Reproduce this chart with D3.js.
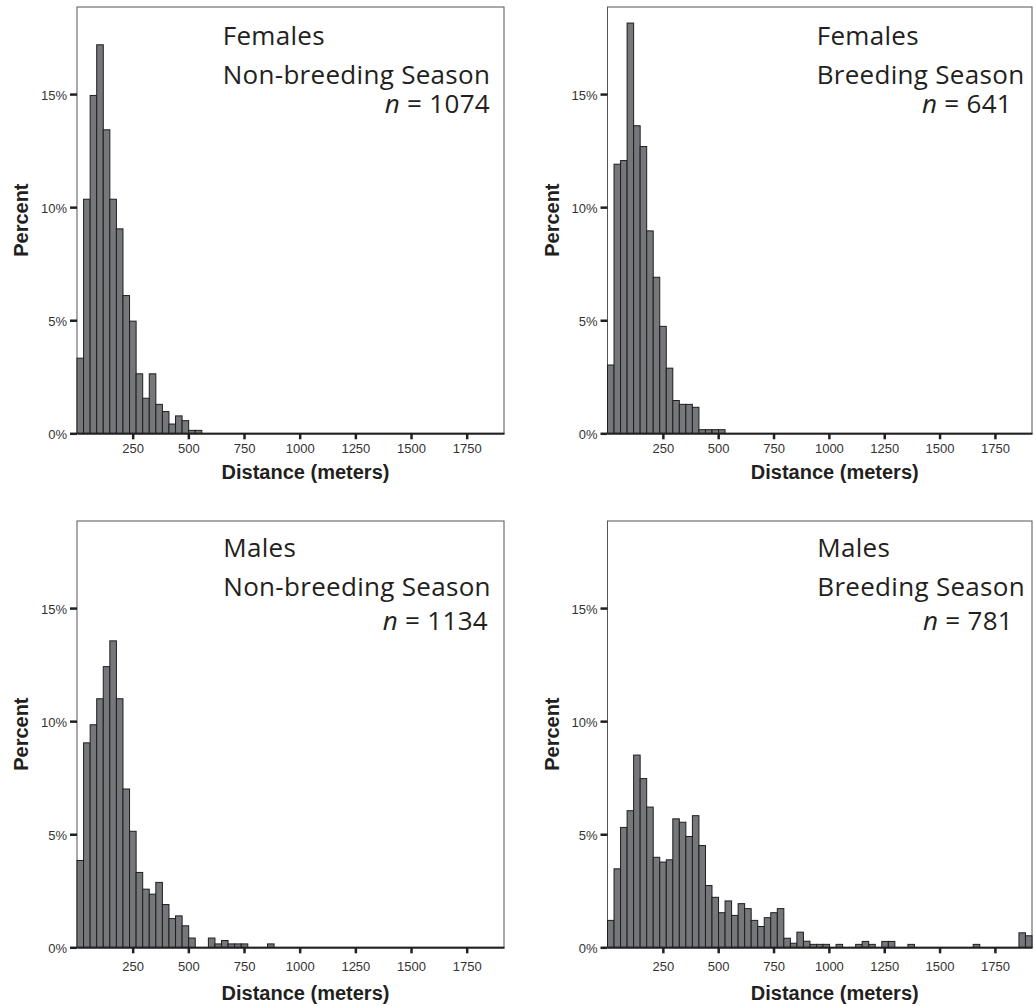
<!DOCTYPE html>
<html>
<head>
<meta charset="utf-8">
<script src="https://cdn.jsdelivr.net/npm/d3@7"></script>
<style>
  body { margin: 0; background: #fff; }
  svg { display: block; }
  .tick-label { font-family: "Liberation Sans", Arial, sans-serif; font-size: 13px; fill: #333; }
  .axis-title { font-family: "Liberation Sans", Arial, sans-serif; font-size: 20px; font-weight: bold; fill: #231f20; }
  .note { font-family: "Open Sans", "Noto Sans", sans-serif; font-size: 26px; letter-spacing: 0.3px; fill: #231f20; }
</style>
</head>
<body>
<svg width="1034" height="1006"></svg>
<script>
// histogram bins: 65 bins of 29.5 m starting at 0
var binWidth = 29.5;
var xMax = 1917.5;
var yMax = 18.85;
var xTicks = [250, 500, 750, 1000, 1250, 1500, 1750];
var yTicks = [0, 5, 10, 15];

// percent of relocations per bin
var femalesNonBreeding = [3.32, 10.35, 14.94, 17.18, 13.42, 10.35, 9.04, 6.09, 4.96, 2.63,
  1.55, 2.63, 1.28, 0.96, 0.41, 0.77, 0.56, 0.13, 0.13];
var femalesBreeding = [3.02, 11.9, 12.06, 18.14, 13.6, 12.68, 8.95, 6.9, 4.73, 2.88,
  1.45, 1.28, 1.28, 1.15, 0.16, 0.16, 0.16, 0.16];
var malesNonBreeding = [3.84, 9.04, 9.84, 10.99, 12.41, 13.55, 10.99, 7.0, 5.13, 3.31,
  2.57, 2.35, 2.87, 1.89, 1.27, 1.39, 0.95, 0.41, 0, 0,
  0.41, 0.15, 0.3, 0.15, 0.15, 0.15, 0, 0, 0, 0.15];
var malesBreeding = [1.19, 3.47, 5.30, 6.04, 8.5, 7.46, 6.2, 3.98, 3.77, 3.87,
  5.68, 5.53, 4.9, 5.82, 4.5, 2.73, 2.21, 1.53, 2.05, 1.41,
  1.93, 1.71, 1.19, 0.92, 1.31, 1.53, 1.71, 0.40, 0.18, 0.67,
  0.27, 0.13, 0.13, 0.13, 0, 0.13, 0, 0, 0.13, 0.26,
  0.13, 0, 0.26, 0.26, 0, 0, 0.13, 0, 0, 0,
  0, 0, 0, 0, 0, 0, 0.13, 0, 0, 0,
  0, 0, 0, 0.64, 0.51];

var sexes = ["Females", "Females", "Males", "Males"];
var seasons = ["Non-breeding Season", "Breeding Season", "Non-breeding Season", "Breeding Season"];
var counts = [1074, 641, 1134, 781];
var series = [femalesNonBreeding, femalesBreeding, malesNonBreeding, malesBreeding];

// layout of the four panels
var panels = [
  {left: 77, right: 504, top: 7, bottom: 433.3, tickDy: 20, titleDy: 46, noteX: 222.7, nRight: 490, lines: [38, 77, 106]},
  {left: 607.5, right: 1032, top: 7, bottom: 433.3, tickDy: 20, titleDy: 46, noteX: 816.7, nRight: 1012, lines: [38, 77, 106]},
  {left: 77, right: 504, top: 521, bottom: 947.3, tickDy: 24, titleDy: 52.5, noteX: 223.3, nRight: 488, lines: [36, 75, 109]},
  {left: 607.5, right: 1032, top: 521, bottom: 947.3, tickDy: 24, titleDy: 52.5, noteX: 817.3, nRight: 1013, lines: [36, 75, 109]}
];

var svg = d3.select("svg");

panels.forEach(function(p, i) {
  var g = svg.append("g");
  var x = d3.scaleLinear().domain([0, xMax]).range([p.left, p.right]);
  var y = d3.scaleLinear().domain([0, yMax]).range([p.bottom, p.top]);

  // frame
  g.append("rect")
    .attr("x", p.left).attr("y", p.top)
    .attr("width", p.right - p.left).attr("height", p.bottom - p.top)
    .attr("fill", "none").attr("stroke", "#555").attr("stroke-width", 1);

  // bars
  var bins = series[i].map(function(v, k) { return {x0: k * binWidth, x1: (k + 1) * binWidth, v: v}; })
    .filter(function(d) { return d.v > 0; });
  g.selectAll("rect.bar").data(bins).enter().append("rect")
    .attr("class", "bar")
    .attr("x", function(d) { return x(d.x0); })
    .attr("width", function(d) { return Math.min(x(d.x1), p.right) - x(d.x0); })
    .attr("y", function(d) { return y(d.v); })
    .attr("height", function(d) { return y(0) - y(d.v); })
    .attr("fill", "#76777b")
    .attr("stroke", "#1e1e1e")
    .attr("stroke-width", 1);

  // x axis
  var xAxis = g.append("g").attr("transform", "translate(0," + p.bottom + ")")
    .call(d3.axisBottom(x).tickValues(xTicks).tickSize(6).tickSizeOuter(0).tickFormat(d3.format("d")));
  xAxis.select(".domain").attr("stroke", "#231f20").attr("stroke-width", 2);
  xAxis.selectAll(".tick line").attr("stroke", "#231f20").attr("stroke-width", 2.5);
  xAxis.selectAll(".tick text").attr("class", "tick-label").attr("fill", "#333")
    .attr("y", p.tickDy).attr("dy", null);

  // y axis
  var yAxis = g.append("g").attr("transform", "translate(" + p.left + ",0)")
    .call(d3.axisLeft(y).tickValues(yTicks).tickSize(7).tickSizeOuter(0).tickFormat(function(d) { return d + "%"; }));
  yAxis.select(".domain").remove();
  yAxis.selectAll(".tick line").attr("stroke", "#231f20").attr("stroke-width", 2.5);
  yAxis.selectAll(".tick text").attr("class", "tick-label").attr("fill", "#333")
    .attr("x", -10).attr("dy", "0.4em");

  // axis titles
  g.append("text").attr("class", "axis-title")
    .attr("text-anchor", "middle")
    .attr("x", (p.left + p.right) / 2 + 15).attr("y", p.bottom + p.titleDy)
    .text("Distance (meters)");
  g.append("text").attr("class", "axis-title")
    .attr("text-anchor", "middle")
    .attr("transform", "translate(" + (p.left - 49) + "," + ((p.top + p.bottom) / 2) + ") rotate(-90)")
    .text("Percent");

  // annotation
  g.append("text").attr("class", "note").attr("x", p.noteX).attr("y", p.top + p.lines[0]).text(sexes[i]);
  g.append("text").attr("class", "note").attr("x", p.noteX).attr("y", p.top + p.lines[1]).text(seasons[i]);
  var n = g.append("text").attr("class", "note").attr("text-anchor", "end")
    .attr("x", p.nRight).attr("y", p.top + p.lines[2]);
  n.append("tspan").attr("font-style", "italic").text("n");
  n.append("tspan").text(" = " + counts[i]);
});
</script>
</body>
</html>
